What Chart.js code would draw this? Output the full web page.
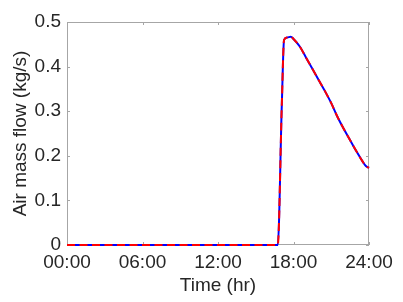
<!DOCTYPE html>
<html>
<head>
<meta charset="utf-8">
<script src="https://cdn.jsdelivr.net/npm/chart.js@4"></script>
<style>
  body { margin: 0; background: #fff; }
  #chart { display: block; }
</style>
</head>
<body>
<canvas id="chart" width="403" height="302"></canvas>
<script>
// time of day in hours, and air mass flow in kg/s
const hours = [0, 16.75, 17.07, 17.25, 17.5, 17.78, 18.0, 18.5, 19.0, 19.5, 20.0, 20.5, 21.0, 21.5, 22.0, 22.5, 23.0, 23.5, 23.75, 24.0];
const flowBlue = [0, 0, 0.314, 0.46, 0.465, 0.467, 0.462, 0.445, 0.42, 0.395, 0.37, 0.345, 0.318, 0.287, 0.26, 0.235, 0.21, 0.187, 0.177, 0.173];
const flowRed = [0, 0, 0.314, 0.46, 0.465, 0.467, 0.462, 0.445, 0.42, 0.395, 0.37, 0.345, 0.318, 0.287, 0.26, 0.235, 0.21, 0.187, 0.177, 0.173];
const xTicks = [0, 6, 12, 18, 24];
const yTicks = [0, 0.1, 0.2, 0.3, 0.4, 0.5];

const fontFamily = '"Liberation Sans", Arial, sans-serif';
const textColor = '#262626';
const axisColor = '#a6a6a6';

function toPoints(ys) {
  return hours.map((h, i) => ({ x: h, y: ys[i] }));
}

// matlab style box with inward ticks on all four sides
const boxPlugin = {
  id: 'box',
  beforeDatasetsDraw(chart) {
    const ctx = chart.ctx;
    const a = chart.chartArea;
    const xs = chart.scales.x;
    const ys = chart.scales.y;
    const len = 3;
    ctx.save();
    ctx.strokeStyle = axisColor;
    ctx.lineWidth = 1;
    ctx.strokeRect(a.left + 0.5, a.top + 0.5, a.right - a.left - 1, a.bottom - a.top - 1);
    ctx.beginPath();
    xTicks.forEach(t => {
      const px = Math.round(xs.getPixelForValue(t)) + 0.5;
      ctx.moveTo(px, a.bottom); ctx.lineTo(px, a.bottom - len);
      ctx.moveTo(px, a.top); ctx.lineTo(px, a.top + len);
    });
    yTicks.forEach(t => {
      const py = Math.round(ys.getPixelForValue(t)) + 0.5;
      ctx.moveTo(a.left, py); ctx.lineTo(a.left + len, py);
      ctx.moveTo(a.right, py); ctx.lineTo(a.right - len, py);
    });
    ctx.stroke();
    ctx.restore();
  }
};

const ctx = document.getElementById('chart').getContext('2d');
const chart = new Chart(ctx, {
  type: 'line',
  data: {
    datasets: [
      {
        data: toPoints(flowRed),
        borderColor: '#ff0000',
        borderWidth: 2,
        borderDash: [8, 4.5],
        pointRadius: 0,
        cubicInterpolationMode: 'monotone',
        clip: false,
        order: 0
      },
      {
        data: toPoints(flowBlue),
        borderColor: '#0000ff',
        borderWidth: 2,
        pointRadius: 0,
        cubicInterpolationMode: 'monotone',
        clip: false,
        order: 1
      }
    ]
  },
  options: {
    responsive: false,
    animation: false,
    layout: { padding: { top: 22, right: 34, left: 0, bottom: 0 } },
    plugins: { legend: { display: false }, tooltip: { enabled: false } },
    scales: {
      x: {
        type: 'linear',
        min: 0,
        max: 24,
        afterBuildTicks: s => { s.ticks = xTicks.map(v => ({ value: v })); },
        afterFit: s => { s.height = 57; },
        grid: { display: false, drawTicks: false },
        border: { display: false },
        ticks: {
          padding: 6,
          color: textColor,
          font: { family: fontFamily, size: 19 },
          maxRotation: 0,
          callback: v => String(v).padStart(2, '0') + ':00'
        },
        title: {
          display: true,
          text: 'Time (hr)',
          color: textColor,
          font: { family: fontFamily, size: 19 },
          padding: { top: 0, bottom: 5 }
        }
      },
      y: {
        min: 0,
        max: 0.5,
        afterBuildTicks: s => { s.ticks = yTicks.map(v => ({ value: v })); },
        afterFit: s => { s.width = 67; },
        grid: { display: false, drawTicks: false },
        border: { display: false },
        ticks: {
          padding: 6,
          color: textColor,
          font: { family: fontFamily, size: 19 },
          callback: v => v === 0 ? '0' : v.toFixed(1)
        },
        title: {
          display: true,
          text: 'Air mass flow (kg/s)',
          color: textColor,
          font: { family: fontFamily, size: 19 },
          padding: { top: 9, bottom: 0 }
        }
      }
    }
  },
  plugins: [boxPlugin]
});
</script>
</body>
</html>
